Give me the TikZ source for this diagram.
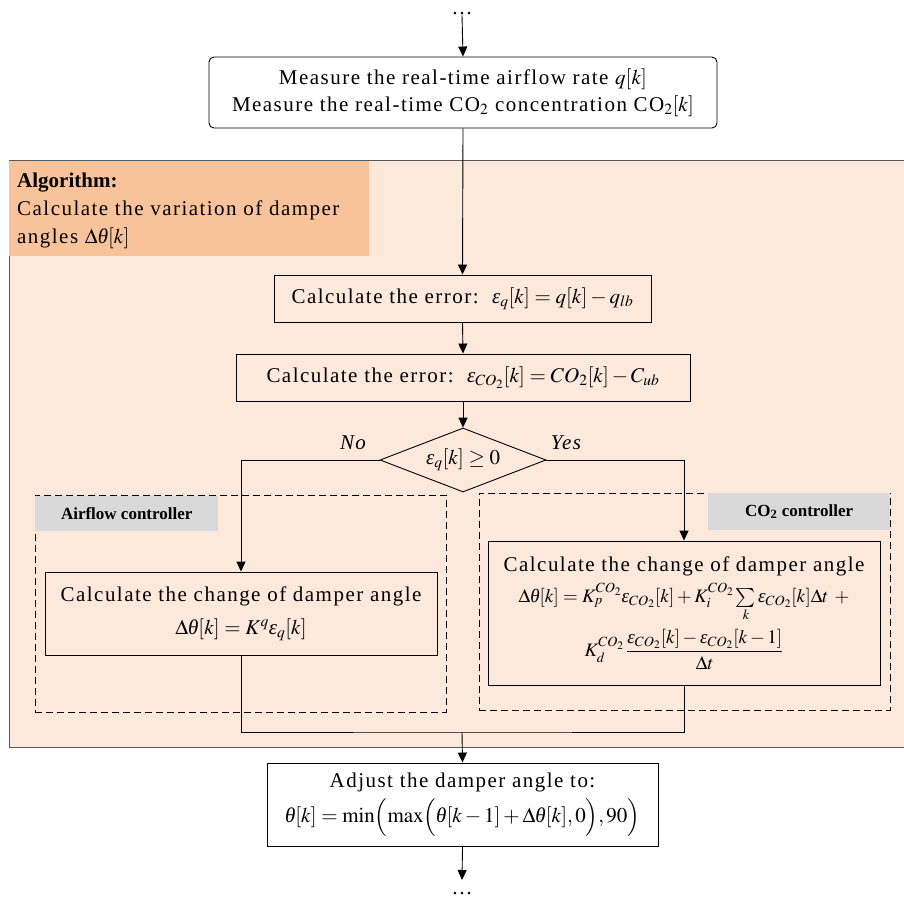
\documentclass[tikz,border=0pt]{standalone}
\usepackage{amsmath}
\usepackage{mathptmx}
% scalable large operators and delimiters
\DeclareFontFamily{OMX}{scaledex}{}
\DeclareFontShape{OMX}{scaledex}{m}{n}{<->cmex10}{}
\DeclareSymbolFont{largesymbols}{OMX}{scaledex}{m}{n}
\usepackage[no-math]{fontspec}
\setmainfont[LetterSpace=7]{Liberation Serif}
\newfontfamily\tagfont{Liberation Serif}
\usetikzlibrary{shapes.geometric,arrows.meta}

\definecolor{panelfill}{HTML}{FCE9DC}
\definecolor{panelline}{HTML}{5A5A5A}
\definecolor{algfill}{HTML}{F8C39B}
\definecolor{tagfill}{HTML}{D9D9D9}

% italic Greek letters taken from the text font
\newcommand\veps{\text{\itshape ε}}
\newcommand\vth{\text{\itshape θ}}

\begin{document}
\begin{tikzpicture}[x=1pt,y=-1pt,
  every node/.style={font=\fontsize{21}{27}\selectfont, inner sep=0pt},
  stepbox/.style={draw, line width=0.9pt, fill=white, align=center},
  flowbox/.style={draw, line width=0.9pt, align=center},
  arr/.style={line width=0.9pt, -{Triangle[length=10pt,width=9pt]}},
  link/.style={line width=0.9pt},
  ctrlframe/.style={draw, dashed, line width=0.8pt, dash pattern=on 7pt off 4pt},
  tag/.style={fill=tagfill, font=\tagfont\fontsize{17}{20}\selectfont\bfseries},
  dots/.style={font=\fontsize{21}{27}\selectfont}]
\useasboundingbox (0,0) rectangle (903,907);

% shaded algorithm panel and its heading
\node[draw=panelline, fill=panelfill, line width=0.8pt, minimum width=900pt, minimum height=587pt, anchor=north west] (panel) at (9,160) {};
\node[fill=algfill, minimum width=360pt, minimum height=95pt, anchor=north west] (algtag) at (9,161) {};
\node[anchor=north west, align=left, font=\fontsize{21}{28}\selectfont] (algtext) at (17,173)
  {{\tagfont\bfseries Algorithm:}\\Calculate the variation of damper\\angles $\Delta\vth[k]$};

% controller frames
\node[ctrlframe, minimum width=411pt, minimum height=217pt, anchor=north west] (airframe) at (35,495) {};
\node[ctrlframe, minimum width=411pt, minimum height=217pt, anchor=north west] (coframe) at (479,493) {};
\node[tag, minimum width=183pt, minimum height=35pt, anchor=north west] (airtag) at (35,496) {Airflow controller};
\node[tag, minimum width=182pt, minimum height=37pt, anchor=north west] (cotag) at (708,493) {CO\textsubscript{2} controller};

% flow steps
\node[dots] (dtop) at (462,14) {…};
\node[stepbox, rounded corners=5pt, minimum width=508pt, minimum height=71pt] (measure) at (463,92.5)
  {Measure the real-time airflow rate $q[k]$\\Measure the real-time CO$_2$ concentration CO$_2[k]$};
\node[flowbox, minimum width=377pt, minimum height=47pt] (errq) at (462.5,298.5)
  {Calculate the error:\ \ $\veps_q[k]=q[k]-q_{lb}$};
\node[flowbox, minimum width=454pt, minimum height=47pt] (errc) at (463,377.5)
  {Calculate the error:\ \ $\veps_{CO_2}[k]=CO_2[k]-C_{ub}$};
\node[draw, line width=0.9pt, diamond, aspect=2.6, minimum width=166pt, minimum height=64pt] (check) at (463,460)
  {$\veps_q[k]\ge 0$};
\node[font=\fontsize{21}{27}\selectfont\itshape] (nolab) at (353,443) {No};
\node[font=\fontsize{21}{27}\selectfont\itshape] (yeslab) at (566,443) {Yes};

\node[flowbox, minimum width=392pt, minimum height=83pt] (airstep) at (241,613.5)
  {Calculate the change of damper angle\\[6pt]
   $\Delta\vth[k]=K^q\veps_q[k]$};
\node[flowbox, minimum width=392pt, minimum height=144pt] (costep) at (684,613)
  {Calculate the change of damper angle\\[4pt]
   {\fontsize{19}{23}\selectfont$\Delta\vth[k]=K_p^{CO_2}\veps_{CO_2}[k]+K_i^{CO_2}\sum\limits_k\veps_{CO_2}[k]\Delta t\ +$}\\[6pt]
   {\fontsize{19}{23}\selectfont$\displaystyle K_d^{CO_2}\,\frac{\veps_{CO_2}[k]-\veps_{CO_2}[k-1]}{\Delta t}$}};

\coordinate (merge) at (462,732);
\node[flowbox, fill=white, minimum width=391pt, minimum height=83pt] (adjust) at (462.5,804.5)
  {Adjust the damper angle to:\\[6pt]
   $\vth[k]=\min\Bigl(\max\Bigl(\vth[k-1]+\Delta\vth[k],0\Bigr),90\Bigr)$};
\coordinate (outend) at (462,880);
\node[dots] (dbot) at (462,894) {…};

% connectors
\draw[arr] (dtop.south) -- (measure.north);
\draw[arr] (measure.south) -- (errq.north);
\draw[arr] (errq.south) -- (errc.north);
\draw[arr] (errc.south) -- (check.north);
\draw[arr] (check.west) -| (airstep.north);
\draw[arr] (check.east) -| (costep.north);
\draw[link] (airstep.south) |- (merge) -| (costep.south);
\draw[arr] (merge) -- (adjust.north);
\draw[arr] (adjust.south) -- (outend);
\end{tikzpicture}
\end{document}
